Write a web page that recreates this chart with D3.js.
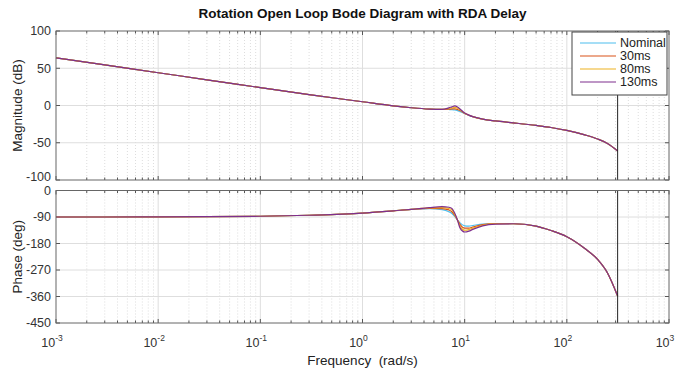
<!DOCTYPE html>
<html>
<head>
<meta charset="utf-8">
<script src="https://cdn.jsdelivr.net/npm/d3@7"></script>
<style>
  body { margin: 0; background: #fff; }
  svg { font-family: "Liberation Sans", Arial, sans-serif; }
</style>
</head>
<body>
<div id="chart"></div>
<script>
// frequency samples (rad/s)
const freq = [0.001, 0.003, 0.01, 0.03, 0.1, 0.3, 1, 2, 3, 4.5, 6, 7, 7.5, 8, 8.5, 9, 10, 11, 12, 15, 20, 30, 50, 70, 100, 150, 200, 250, 314.16];

// magnitude (dB)
const magNominal = [64, 54.5, 44, 34.5, 24, 14.5, 5, -0.5, -3, -4.8, -5.2, -5.4, -5.6, -6.0, -6.8, -7.8, -10.8, -13.2, -15, -18.3, -20.7, -23.3, -26.8, -29.5, -33.5, -39.5, -45, -51, -61];
const mag30      = [64, 54.5, 44, 34.5, 24, 14.5, 5, -0.5, -3, -4.8, -5.2, -4.9, -4.6, -4.5, -5.3, -6.8, -10.6, -13.1, -15, -18.3, -20.7, -23.3, -26.8, -29.5, -33.5, -39.5, -45, -51, -61];
const mag80      = [64, 54.5, 44, 34.5, 24, 14.5, 5, -0.5, -3, -4.8, -5.2, -4.1, -3.4, -2.6, -3.6, -5.6, -10.4, -13.0, -15, -18.3, -20.7, -23.3, -26.8, -29.5, -33.5, -39.5, -45, -51, -61];
const mag130     = [64, 54.5, 44, 34.5, 24, 14.5, 5, -0.5, -3, -4.8, -5.2, -3.2, -1.8, -0.6, -2.0, -4.6, -10.2, -12.9, -15, -18.3, -20.7, -23.3, -26.8, -29.5, -33.5, -39.5, -45, -51, -61];

// phase (deg)
const phNominal = [-90, -90, -89.5, -89, -87.5, -84, -77, -69, -64, -62, -65, -72, -78, -88, -100, -110, -120, -121, -119, -114, -112, -113, -121, -136, -157, -197, -234, -280, -358];
const ph30      = [-90, -90, -89.5, -89, -87.5, -84, -77, -69, -64, -60.5, -61.5, -66, -72, -85, -100, -115, -128, -128, -124, -116, -112.5, -113, -121, -136, -157, -197, -234, -280, -358];
const ph80      = [-90, -90, -89.5, -89, -87.5, -84, -77, -69, -64, -59, -58, -61, -66, -81, -100, -121, -135, -133, -128, -118, -113, -113, -121, -136, -157, -197, -234, -280, -358];
const ph130     = [-90, -90, -89.5, -89, -87.5, -84, -77, -69, -64, -58, -55, -57, -61, -77, -100, -127, -141, -138, -132, -120, -114, -113, -121, -136, -157, -197, -234, -280, -358];

const seriesNames = ["Nominal", "30ms", "80ms", "130ms"];
const seriesColors = ["#4DBEEE", "#D95319", "#EDB120", "#7E2F8E"];
const magSeries = [magNominal, mag30, mag80, mag130];
const phSeries = [phNominal, ph30, ph80, ph130];

const magTicks = [-100, -50, 0, 50, 100];
const phTicks = [-450, -360, -270, -180, -90, 0];
const nyquist = Math.PI / 0.01;

const width = 679, height = 370;
const left = 56, right = 669;

const svg = d3.select("#chart").append("svg")
  .attr("width", width)
  .attr("height", height);

const x = d3.scaleLog().domain([1e-3, 1e3]).range([left, right]);
const yMag = d3.scaleLinear().domain([-100, 100]).range([180, 31]);
const yPh = d3.scaleLinear().domain([-450, 0]).range([323, 190.5]);

const decades = d3.range(-3, 4).map(e => Math.pow(10, e));
const minors = [];
decades.slice(0, -1).forEach(d => { for (let k = 2; k <= 9; k++) minors.push(d * k); });

// nudge the two labels that meet between the panels
const labelShift = { "-100": -3, "0": 0 };

function drawAxes(y, ticks, isTop) {
  const [y0, y1] = y.range();   // bottom, top
  const g = svg.append("g");

  // minor grid (dotted)
  g.selectAll(".mg").data(minors).join("line")
    .attr("x1", d => x(d)).attr("x2", d => x(d))
    .attr("y1", y1).attr("y2", y0)
    .attr("stroke", "#d4d4d4").attr("stroke-width", 0.8)
    .attr("stroke-dasharray", "1,2");

  // major grid
  g.selectAll(".vg").data(decades.slice(1, -1)).join("line")
    .attr("x1", d => x(d)).attr("x2", d => x(d))
    .attr("y1", y1).attr("y2", y0)
    .attr("stroke", "#dedede");
  g.selectAll(".hg").data(ticks.slice(1, -1)).join("line")
    .attr("x1", left).attr("x2", right)
    .attr("y1", d => y(d)).attr("y2", d => y(d))
    .attr("stroke", "#dedede");

  // ticks inside, all four sides
  const tk = 4, mtk = 2.5;
  [[y0, -1], [y1, 1]].forEach(([yy, dir]) => {
    g.selectAll(null).data(decades).join("line")
      .attr("x1", d => x(d)).attr("x2", d => x(d))
      .attr("y1", yy).attr("y2", yy + dir * tk)
      .attr("stroke", "#555");
    g.selectAll(null).data(minors).join("line")
      .attr("x1", d => x(d)).attr("x2", d => x(d))
      .attr("y1", yy).attr("y2", yy + dir * mtk)
      .attr("stroke", "#555");
  });
  [[left, 1], [right, -1]].forEach(([xx, dir]) => {
    g.selectAll(null).data(ticks).join("line")
      .attr("x1", xx).attr("x2", xx + dir * tk)
      .attr("y1", d => y(d)).attr("y2", d => y(d))
      .attr("stroke", "#555");
  });

  // tick labels
  g.selectAll(null).data(ticks).join("text")
    .attr("x", left - 5)
    .attr("y", d => y(d) + (isTop && d === -100 ? labelShift["-100"] : 0) + (!isTop && d === 0 ? labelShift["0"] : 0))
    .attr("dy", "0.35em")
    .attr("text-anchor", "end")
    .attr("font-size", 12.5)
    .attr("fill", "#333")
    .text(d => d);

  return g;
}

function drawCurves(y, series) {
  const line = d3.line()
    .x(d => x(d[0]))
    .y(d => y(d[1]))
    .curve(d3.curveMonotoneX);
  const g = svg.append("g");
  series.forEach((vals, i) => {
    g.append("path")
      .datum(freq.map((f, j) => [f, vals[j]]))
      .attr("fill", "none")
      .attr("stroke", seriesColors[i])
      .attr("stroke-width", 1.2)
      .attr("d", line);
  });
}

function drawBox(y) {
  const [y0, y1] = y.range();
  // Nyquist line
  svg.append("line")
    .attr("x1", x(nyquist)).attr("x2", x(nyquist))
    .attr("y1", y1).attr("y2", y0)
    .attr("stroke", "#222").attr("stroke-width", 1);
  svg.append("rect")
    .attr("x", left).attr("y", y1)
    .attr("width", right - left).attr("height", y0 - y1)
    .attr("fill", "none")
    .attr("stroke", "#666");
}

drawAxes(yMag, magTicks, true);
drawCurves(yMag, magSeries);
drawBox(yMag);

drawAxes(yPh, phTicks, false);
drawCurves(yPh, phSeries);
drawBox(yPh);

// x tick labels 10^n
const xl = svg.append("g").attr("font-size", 12.5).attr("fill", "#333");
decades.forEach(d => {
  const t = xl.append("text")
    .attr("x", x(d) - 4)
    .attr("y", 347)
    .attr("text-anchor", "middle");
  t.append("tspan").text("10");
  t.append("tspan")
    .attr("font-size", 8.5)
    .attr("dy", -6)
    .text(Math.round(Math.log10(d)));
});

svg.append("text")
  .attr("x", (left + right) / 2)
  .attr("y", 365)
  .attr("text-anchor", "middle")
  .attr("font-size", 13.5)
  .attr("fill", "#222")
  .style("white-space", "pre")
  .text("Frequency  (rad/s)");

svg.append("text")
  .attr("transform", `translate(22,${(yMag.range()[0] + yMag.range()[1]) / 2}) rotate(-90)`)
  .attr("text-anchor", "middle")
  .attr("font-size", 13.5)
  .attr("fill", "#222")
  .text("Magnitude (dB)");

svg.append("text")
  .attr("transform", `translate(22,${(yPh.range()[0] + yPh.range()[1]) / 2}) rotate(-90)`)
  .attr("text-anchor", "middle")
  .attr("font-size", 13.5)
  .attr("fill", "#222")
  .text("Phase (deg)");

svg.append("text")
  .attr("x", (left + right) / 2)
  .attr("y", 18)
  .attr("text-anchor", "middle")
  .attr("font-size", 13.5)
  .attr("font-weight", "bold")
  .attr("fill", "#111")
  .text("Rotation Open Loop Bode Diagram with RDA Delay");

// legend
const lg = svg.append("g");
lg.append("rect")
  .attr("x", 572).attr("y", 32)
  .attr("width", 95).attr("height", 63)
  .attr("fill", "#fff")
  .attr("stroke", "#444");
seriesNames.forEach((name, i) => {
  const yy = 43 + i * 13;
  lg.append("line")
    .attr("x1", 580).attr("x2", 616)
    .attr("y1", yy).attr("y2", yy)
    .attr("stroke", seriesColors[i])
    .attr("stroke-width", 1.2);
  lg.append("text")
    .attr("x", 620).attr("y", yy)
    .attr("dy", "0.35em")
    .attr("font-size", 12.5)
    .attr("fill", "#222")
    .text(name);
});
</script>
</body>
</html>
